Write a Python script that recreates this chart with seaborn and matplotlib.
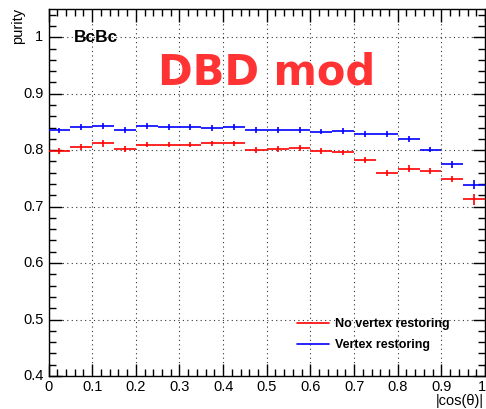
import numpy as np
import pandas as pd
import matplotlib
matplotlib.use("Agg")
import matplotlib.pyplot as plt
from matplotlib.ticker import MultipleLocator
from matplotlib.lines import Line2D
import seaborn as sns

# |cos(theta)| binning: 20 bins of width 0.05
bin_lo = [0.00, 0.05, 0.10, 0.15, 0.20, 0.25, 0.30, 0.35, 0.40, 0.45,
          0.50, 0.55, 0.60, 0.65, 0.70, 0.75, 0.80, 0.85, 0.90, 0.95]
bin_width = 0.05

purity_no_restore = [0.799, 0.806, 0.812, 0.802, 0.810, 0.810, 0.810, 0.812, 0.812, 0.800,
                     0.802, 0.804, 0.798, 0.796, 0.783, 0.760, 0.767, 0.763, 0.749, 0.713]
err_no_restore = [0.005, 0.005, 0.006, 0.006, 0.005, 0.005, 0.005, 0.005, 0.005, 0.005,
                  0.005, 0.005, 0.005, 0.005, 0.005, 0.005, 0.006, 0.006, 0.006, 0.010]

purity_restore = [0.835, 0.841, 0.843, 0.836, 0.843, 0.841, 0.841, 0.839, 0.841, 0.836,
                  0.836, 0.836, 0.833, 0.834, 0.829, 0.829, 0.820, 0.801, 0.775, 0.739]
err_restore = [0.005, 0.005, 0.005, 0.005, 0.005, 0.005, 0.005, 0.005, 0.005, 0.005,
               0.005, 0.005, 0.005, 0.005, 0.005, 0.005, 0.005, 0.005, 0.006, 0.008]

series_names = ["No vertex restoring", "Vertex restoring"]
series_colors = ["#ff0000", "#0000ff"]

centers = np.array(bin_lo) + bin_width / 2
df = pd.concat([
    pd.DataFrame({"x": centers, "purity": purity_no_restore, "err": err_no_restore,
                  "sample": series_names[0]}),
    pd.DataFrame({"x": centers, "purity": purity_restore, "err": err_restore,
                  "sample": series_names[1]}),
])

sns.set_theme(style="ticks")
plt.rcParams["font.family"] = ["Liberation Sans", "DejaVu Sans"]
plt.rcParams["text.color"] = "black"

fig = plt.figure(figsize=(4.86, 4.09), dpi=100)
ax = fig.add_axes([0.0998, 0.0807, 0.8982, 0.8973])

for name, color in zip(series_names, series_colors):
    d = df[df["sample"] == name]
    ax.errorbar(d["x"], d["purity"], xerr=bin_width / 2, yerr=d["err"],
                fmt="none", ecolor=color, elinewidth=1.4, capsize=0, alpha=0.85,
                zorder=3)

ax.set_xlim(0, 1)
ax.set_ylim(0.4, 1.05)
ax.xaxis.set_major_locator(MultipleLocator(0.1))
ax.xaxis.set_minor_locator(MultipleLocator(0.02))
ax.yaxis.set_major_locator(MultipleLocator(0.1))
ax.yaxis.set_minor_locator(MultipleLocator(0.02))
ax.set_xticklabels([])
ax.set_yticklabels([])

ax.grid(True, which="major", linestyle=(0, (1, 3)), color="black", linewidth=0.8, alpha=0.8)
ax.tick_params(which="both", direction="in", top=True, right=True, colors="black",
               labelsize=10)
ax.tick_params(which="major", length=9, width=1)
ax.tick_params(which="minor", length=5, width=1)
for s in ax.spines.values():
    s.set_linewidth(1.0)
    s.set_color("black")

for v in np.arange(0, 1.01, 0.1):
    if v < 1e-9:
        lab, ha, xx = "0", "center", v
    elif v > 0.99:
        lab, ha, xx = "1", "right", 1.003
    else:
        lab, ha, xx = f"{v:.1f}", "center", v
    ax.text(xx, -0.012, lab, transform=ax.get_xaxis_transform(), ha=ha, va="top",
            fontsize=10.5)
for v in [0.4, 0.5, 0.6, 0.7, 0.8, 0.9, 1.0]:
    lab = "1" if v > 0.99 else f"{v:.1f}"
    ax.text(-0.012, v, lab, transform=ax.get_yaxis_transform(), ha="right", va="center",
            fontsize=10.5)

fig.text(0.996, 0.003, "|cos(θ)|", ha="right", va="bottom", fontsize=10.5)
fig.text(0.038, 0.98, "purity", ha="center", va="top", rotation=90, fontsize=10.5)

ax.text(0.058, 0.922, "BcBc", transform=ax.transAxes, fontsize=12.5, fontweight="bold",
        ha="left", va="center")
ax.text(0.5, 0.8395, "DBD mod", transform=ax.transAxes, fontsize=30, fontweight="bold",
        family="DejaVu Sans", color="#ff3333", ha="center", va="center_baseline")

handles = [Line2D([0], [0], color=c, lw=1.2) for c in series_colors]
leg = ax.legend(handles, series_names, loc="upper left", bbox_to_anchor=(0.569, 0.158),
                frameon=False, fontsize=9, handlelength=2.6, handletextpad=0.45,
                labelspacing=0.72, borderpad=0, borderaxespad=0)
for t in leg.get_texts():
    t.set_fontweight("bold")
    t.set_color("black")

fig.savefig("out.png", dpi=100)
